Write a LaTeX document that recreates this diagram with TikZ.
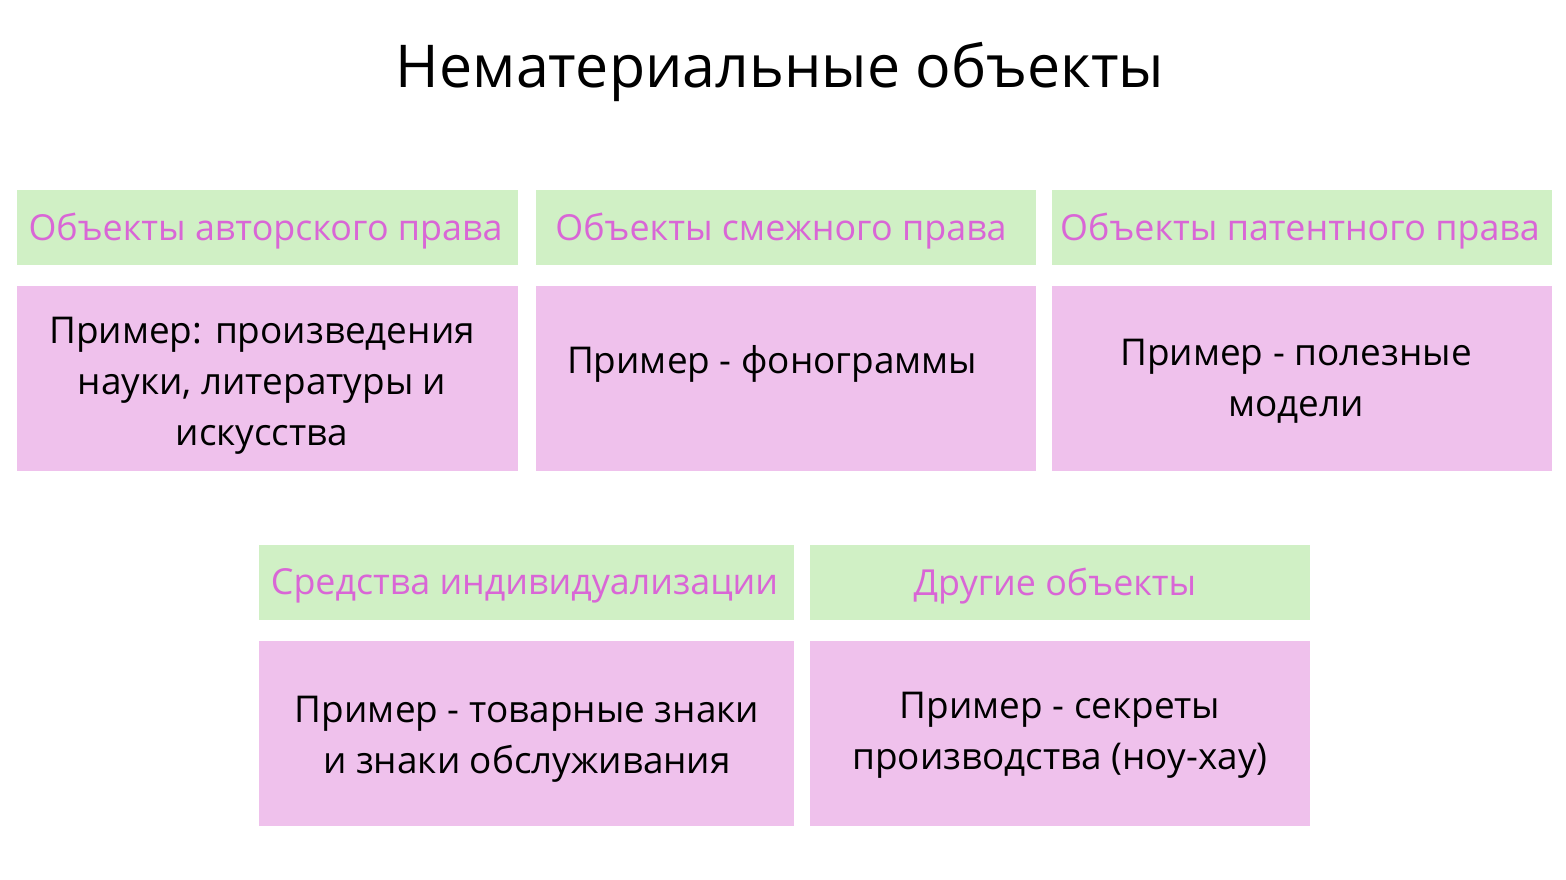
\documentclass[tikz,border=0pt]{standalone}
\usepackage{fontspec}
\setmainfont{Open Sans}

\definecolor{headgreen}{HTML}{D0F0C5}
\definecolor{bodypink}{HTML}{EFC1EC}
\definecolor{headtext}{HTML}{D966D6}

\tikzset{
  headbox/.style={fill=headgreen, minimum height=0.75cm, inner sep=0pt},
  headtxt/.style={text=headtext, font=\fontsize{10.2}{12}\selectfont},
  bodybox/.style={fill=bodypink, minimum height=1.85cm, inner sep=0pt},
  bodytext/.style={align=center, font=\fontsize{10.5}{14.5}\selectfont}
}

\begin{document}
\begin{tikzpicture}
  \useasboundingbox (0,0) rectangle (15.66,-8.8);

  \node (title) at (7.8,-0.72) { \fontsize{16.8}{20}\selectfont Нематериальные объекты };

  % first row
  \node [headbox, minimum width=5.01cm] (copyhead) at (2.675,-2.275) {};
  \node [headtxt] (copylabel) at (2.655,-2.31) { Объекты авторского права };
  \node [headbox, minimum width=5.00cm] (relhead) at (7.86,-2.275) {};
  \node [headtxt] (rellabel) at (7.81,-2.31) { Объекты смежного права };
  \node [headbox, minimum width=5.00cm] (pathead) at (13.02,-2.275) {};
  \node [headtxt] (patlabel) at (13.0,-2.31) { Объекты патентного права };

  \node [bodybox, minimum width=5.01cm] (copybody) at (2.675,-3.785) {};
  \node [bodytext] (copytext) at (2.62,-3.86)
    { Пример: произведения\\ науки, литературы и\\ искусства };
  \node [bodybox, minimum width=5.00cm] (relbody) at (7.86,-3.785) {};
  \node [bodytext] (reltext) at (7.77,-3.64) { Пример - фонограммы };
  \node [bodybox, minimum width=5.00cm] (patbody) at (13.02,-3.785) {};
  \node [bodytext] (pattext) at (12.96,-3.815) { Пример - полезные\\ модели };

  % second row
  \node [headbox, minimum width=5.35cm] (markhead) at (5.265,-5.825) {};
  \node [headtxt] (marklabel) at (5.245,-5.86) { Средства индивидуализации };
  \node [headbox, minimum width=5.00cm] (otherhead) at (10.6,-5.825) {};
  \node [headtxt] (otherlabel) at (10.55,-5.86) { Другие объекты };

  \node [bodybox, minimum width=5.35cm] (markbody) at (5.265,-7.335) {};
  \node [bodytext] (marktext) at (5.27,-7.395) { Пример - товарные знаки\\ и знаки обслуживания };
  \node [bodybox, minimum width=5.00cm] (otherbody) at (10.6,-7.335) {};
  \node [bodytext] (othertext) at (10.6,-7.35) { Пример - секреты\\ производства (ноу-хау) };
\end{tikzpicture}
\end{document}
